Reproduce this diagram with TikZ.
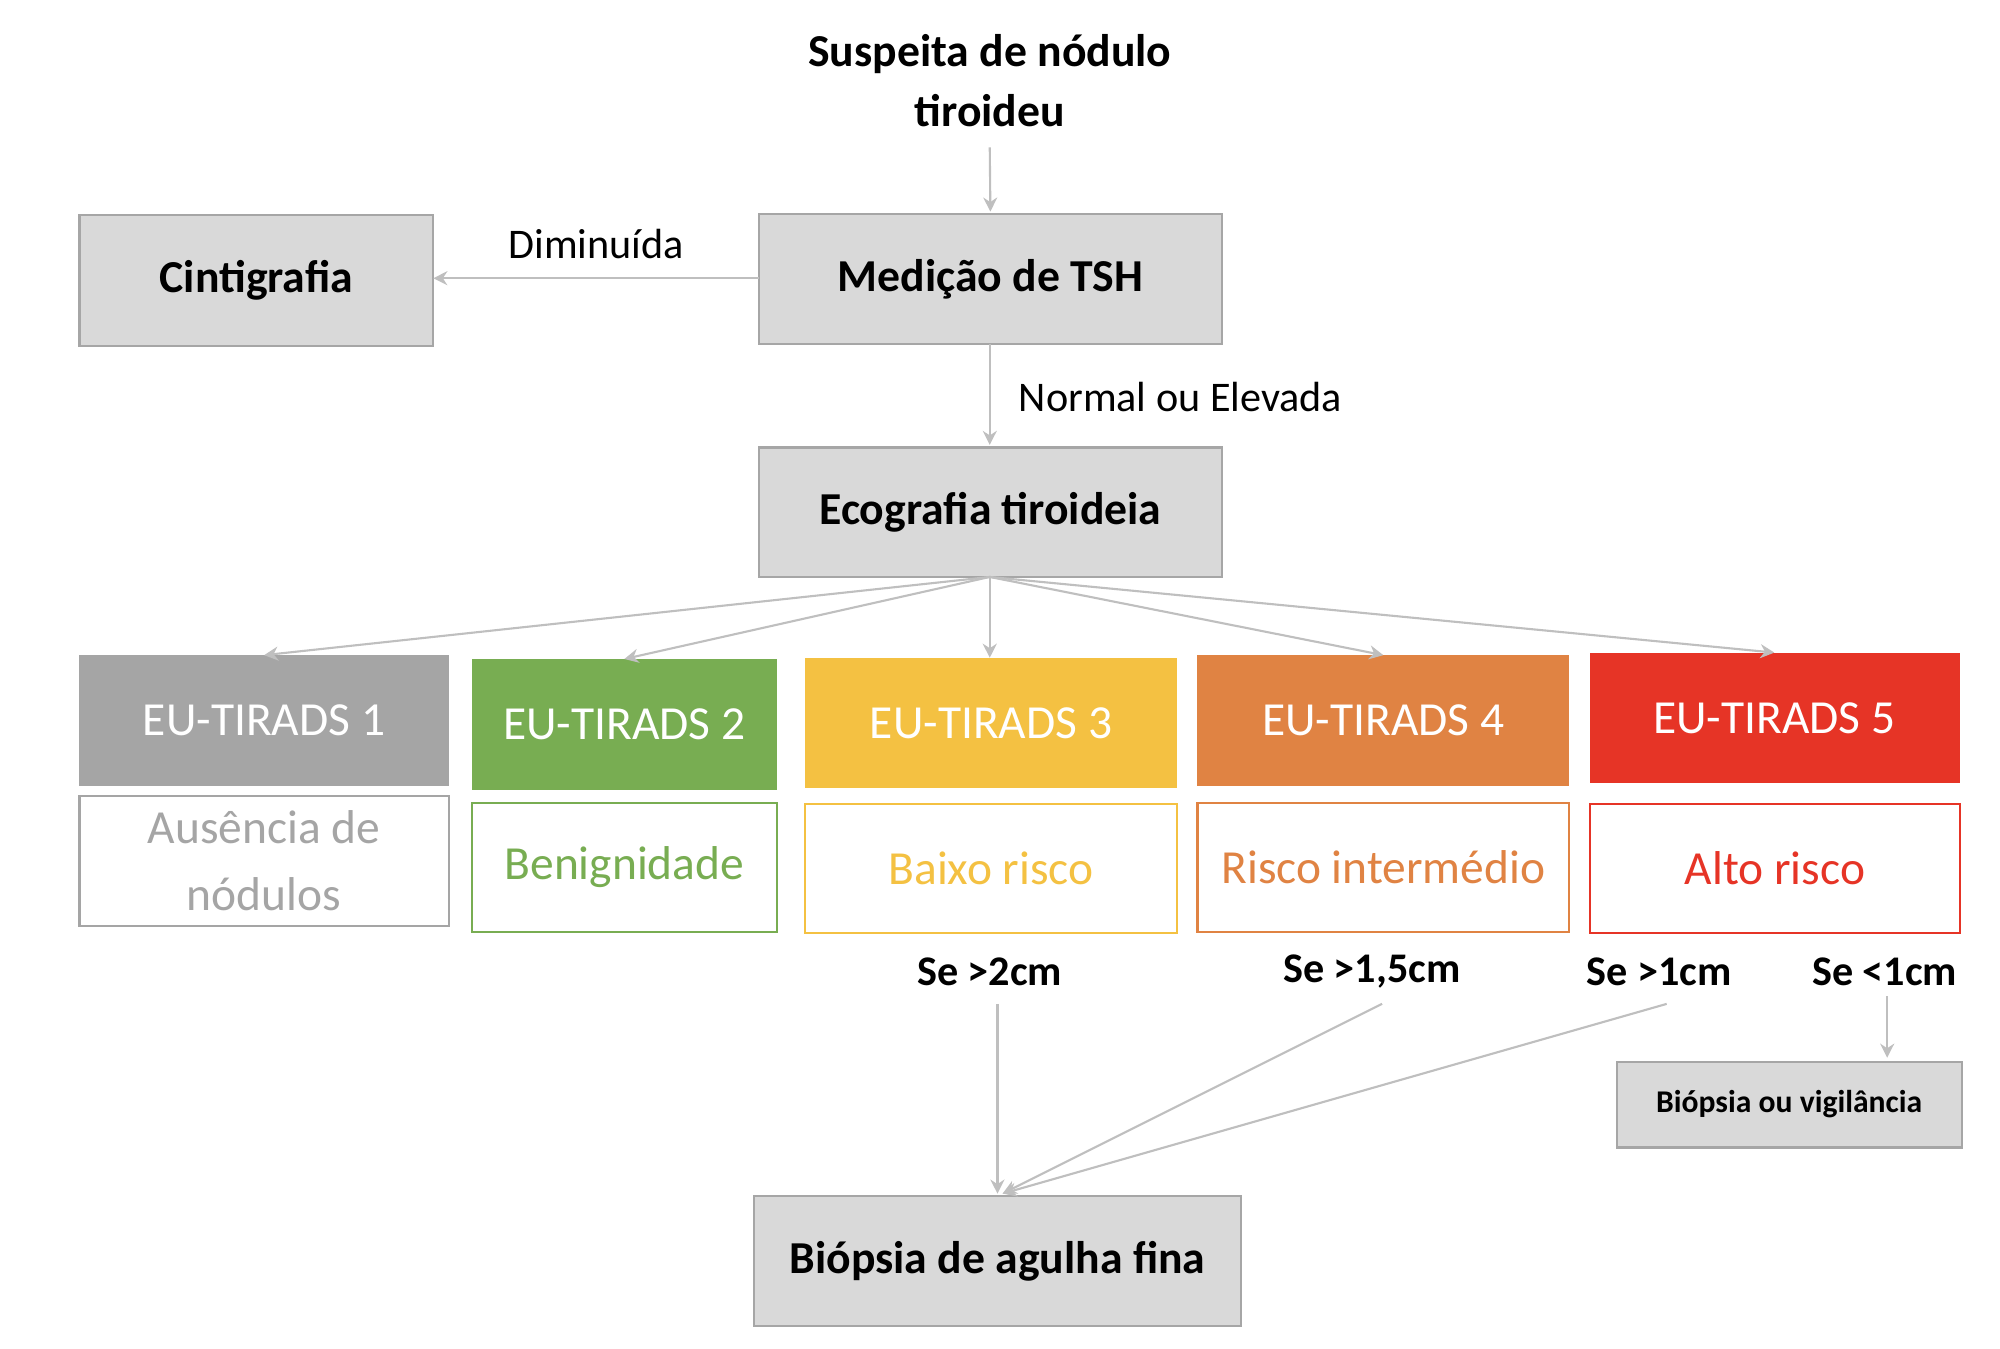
\documentclass[tikz,border=0pt]{standalone}
\usepackage{fontspec}
\setmainfont{Carlito}
\usetikzlibrary{arrows.meta}
\definecolor{boxg}{HTML}{D9D9D9}
\definecolor{edg}{HTML}{A6A6A6}
\definecolor{arr}{HTML}{BFBFBF}
\definecolor{c1}{HTML}{A5A5A5}
\definecolor{c2}{HTML}{78AD52}
\definecolor{c3}{HTML}{F4C142}
\definecolor{c4}{HTML}{E08343}
\definecolor{c5}{HTML}{E63426}
\begin{document}
\begin{tikzpicture}[x=0.01282cm,y=-0.01282cm,
 gbox/.style={draw=edg,fill=boxg,line width=0.6pt,font=\bfseries\fontsize{13}{16}\selectfont},
 hbox/.style={font=\fontsize{13.5}{16}\selectfont,text=white},
 lbox/.style={fill=white,line width=0.6pt,font=\fontsize{13.5}{16}\selectfont,align=center},
 con/.style={draw=arr,line width=0.6pt,-{Stealth[length=4pt,width=4pt]}},
 lab/.style={font=\fontsize{12}{14}\selectfont},
 sel/.style={font=\bfseries\fontsize{12}{14}\selectfont}]
\useasboundingbox (0,0) rectangle (1560,1052);
\node[align=center,font=\bfseries\fontsize{13}{17}\selectfont] (t) at (772,63) {Suspeita de nódulo\\tiroideu};
\coordinate (tb) at (772,115);
\newcommand\bx[5]{\path (#2,#3) rectangle node (#1) {} (#4,#5);}
\draw[gbox] (62,168) rectangle node (cin) {Cintigrafia} (338,270);
\draw[gbox] (592,167) rectangle node (med) {Medição de TSH} (953,268);
\draw[gbox] (592,349) rectangle node (eco) {Ecografia tiroideia} (953,450);
\draw[con] (tb) -- (med.north |- 0,165);
\draw[con] (592,217) -- (338,217) node[lab,midway,above=2pt] {Diminuída};
\draw[con] (772,268) -- (772,347);
\node[lab,anchor=west] (ne) at (785,310) {Normal ou Elevada};
% headers
\fill[c1] (62,511) rectangle (350,613); \node[hbox] (h1) at (206,562) {EU-TIRADS 1};
\fill[c2] (368,514) rectangle (606,616); \node[hbox] (h2) at (487,565) {EU-TIRADS 2};
\fill[c3] (628,513) rectangle (918,615); \node[hbox] (h3) at (773,564) {EU-TIRADS 3};
\fill[c4] (934,511) rectangle (1224,613); \node[hbox] (h4) at (1079,562) {EU-TIRADS 4};
\fill[c5] (1240,509) rectangle (1529,611); \node[hbox] (h5) at (1384,560) {EU-TIRADS 5};
\draw[lbox,draw=c1] (62,621) rectangle node[text=c1,align=center,font=\fontsize{13.5}{19}\selectfont] (l1) {Ausência de\\nódulos} (350,722);
\draw[lbox,draw=c2] (368,626) rectangle node[text=c2,font=\fontsize{13.5}{16}\selectfont] (l2) {Benignidade} (606,727);
\draw[lbox,draw=c3] (628,627) rectangle node[text=c3,font=\fontsize{13.5}{16}\selectfont] (l3) {Baixo risco} (918,728);
\draw[lbox,draw=c4] (934,626) rectangle node[text=c4,font=\fontsize{13.5}{16}\selectfont] (l4) {Risco intermédio} (1224,727);
\draw[lbox,draw=c5] (1240,627) rectangle node[text=c5,font=\fontsize{13.5}{16}\selectfont] (l5) {Alto risco} (1529,728);
\coordinate (eb) at (772,450);
\draw[con] (eb) -- (206,511);
\draw[con] (eb) -- (487,514);
\draw[con] (eb) -- (772,513);
\draw[con] (eb) -- (1079,511);
\draw[con] (eb) -- (1384,509);
\node[sel] (s1) at (772,758) {Se >2cm};
\node[sel] (s2) at (1070,758) {Se >1,5cm};
\node[sel] (s3) at (1294,758) {Se >1cm};
\node[sel] (s4) at (1470,758) {Se <1cm};
\draw[gbox] (1261,828) rectangle node[font=\bfseries\fontsize{9}{11}\selectfont] (bv) {Biópsia ou vigilância} (1530,895);
\draw[gbox] (588,933) rectangle node[font=\bfseries\fontsize{13}{16}\selectfont] (baf) {Biópsia de agulha fina} (968,1034);
\coordinate (b1) at (778,783); \coordinate (b2) at (1078,783); \coordinate (b3) at (1300,783); \coordinate (b4) at (1472,777);
\coordinate (bt) at (782,931);
\draw[con] (b1) -- (778,931);
\draw[con] (b2) -- (bt);
\draw[con] (b3) -- (bt);
\draw[con] (b4) -- (1472,825);
\end{tikzpicture}
\end{document}
